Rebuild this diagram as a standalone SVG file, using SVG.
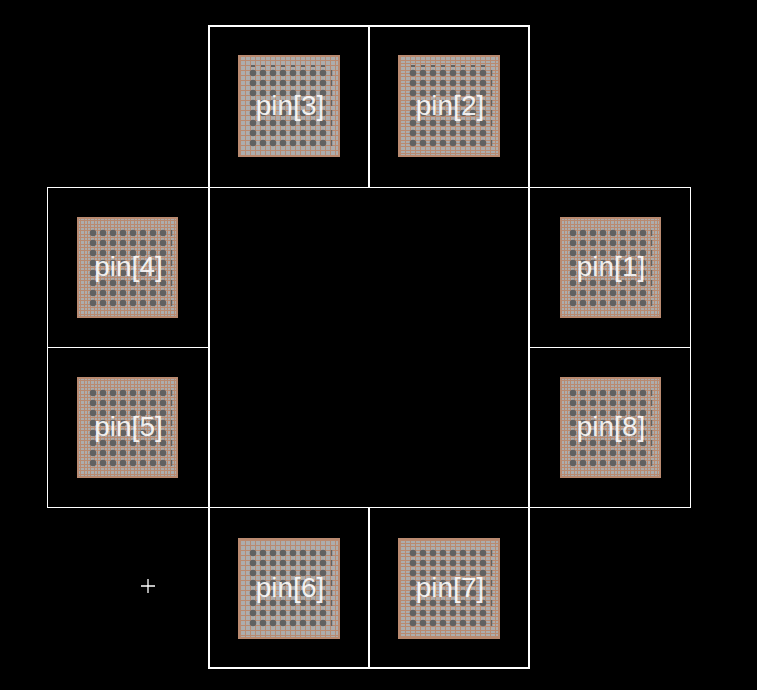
<svg xmlns="http://www.w3.org/2000/svg" width="757" height="690" viewBox="0 0 757 690">
<style>
.thin{fill:none;stroke:#fff;stroke-width:1;shape-rendering:crispEdges}
.thick{fill:none;stroke:#fff;stroke-width:2;shape-rendering:crispEdges}
.base{fill:#adadad}
.ga{fill:url(#gridA);shape-rendering:crispEdges}
.gb{fill:url(#gridB);shape-rendering:crispEdges}
.gc{fill:url(#gridC);shape-rendering:crispEdges}
.edge{fill:none;stroke:#b98a70;stroke-width:2;shape-rendering:crispEdges}
.lab{font-family:"Liberation Sans",Arial,sans-serif;font-size:28px;fill:#fff;fill-opacity:.9;text-anchor:middle}
</style>
<defs>
<pattern id="gridA" width="10" height="10" patternUnits="userSpaceOnUse">
<path d="M0 0h1v10H0zM5 0h1v10H5zM0 0h10v1H0zM0 5h10v1H0z" fill="#b98a70" shape-rendering="crispEdges"/>
</pattern>
<pattern id="gridB" width="10" height="10" patternUnits="userSpaceOnUse">
<path d="M0 0h1v10H0zM5 0h1v10H5zM0 0h10v1H0zM0 3h10v1H0zM0 6h10v1H0z" fill="#b98a70" shape-rendering="crispEdges"/>
</pattern>
<pattern id="gridC" width="10" height="10" patternUnits="userSpaceOnUse">
<path d="M0 0h1v10H0zM4 0h1v10H4zM7 0h1v10H7zM0 0h10v1H0zM0 4h10v1H0zM0 7h10v1H0z" fill="#b98a70" shape-rendering="crispEdges"/>
</pattern>
<pattern id="dotp" width="10" height="10" patternUnits="userSpaceOnUse">
<circle cx="5" cy="5" r="3.3" fill="#616161"/>
</pattern>
<pattern id="dashp" x="82.500" width="10" height="10" patternUnits="userSpaceOnUse">
<rect y="2" width="2" height="6" fill="#616161"/>
</pattern>
<pattern id="topd" width="10" height="2" patternUnits="userSpaceOnUse">
<rect x="3" width="4" height="2" fill="#616161"/>
</pattern>
<g id="dots">
<rect width="80" height="80" fill="url(#dotp)"/>
<rect x="82.500" width="2" height="80" fill="url(#dashp)"/>
</g>
<rect id="topdash" width="80" height="2" fill="url(#topd)"/>
</defs>
<rect width="757" height="690" fill="#000"/>
<g id="pin3">
<path class="thin" d="M208 187.500H370"/><path class="thick" d="M208 26H370M209 26V187M369 26V187"/>
<rect class="base" x="238" y="55" width="102" height="102"/><rect class="ga" x="238" y="55" width="102" height="102"/><rect class="edge" x="239" y="56" width="100" height="100"/>
<use href="#topdash" x="248" y="65"/><use href="#dots" x="248" y="68"/>
<text class="lab" x="290" y="115">pin[3]</text></g>
<g id="pin2">
<path class="thin" d="M368 187.500H530"/><path class="thick" d="M368 26H530M369 26V187M529 26V187"/>
<rect class="base" x="398" y="55" width="102" height="102"/><rect class="gb" x="398" y="55" width="102" height="102"/><rect class="edge" x="399" y="56" width="100" height="100"/>
<use href="#topdash" x="408" y="65"/><use href="#dots" x="408" y="68"/>
<text class="lab" x="450" y="115">pin[2]</text></g>
<g id="pin4">
<path class="thin" d="M47.500 187.500H209M47.500 187V347.500H209"/><path class="thick" d="M209 187V347"/>
<rect class="base" x="77" y="217" width="101" height="101"/><rect class="gc" x="77" y="217" width="101" height="101"/><rect class="edge" x="78" y="218" width="99" height="99"/>
<use href="#dots" x="88" y="228"/>
<text class="lab" x="128.500" y="276">pin[4]</text></g>
<g id="pin5">
<path class="thin" d="M47.500 347.500H209M47.500 347V507.500H209"/><path class="thick" d="M209 347V507"/>
<rect class="base" x="77" y="377" width="101" height="101"/><rect class="gc" x="77" y="377" width="101" height="101"/><rect class="edge" x="78" y="378" width="99" height="99"/>
<use href="#dots" x="88" y="388"/>
<text class="lab" x="128.500" y="436">pin[5]</text></g>
<g id="pin1">
<path class="thin" d="M529 187.500H690.500V347.500H529"/><path class="thick" d="M529 187V347"/>
<rect class="base" x="560" y="217" width="101" height="101"/><rect class="gc" x="560" y="217" width="101" height="101"/><rect class="edge" x="561" y="218" width="99" height="99"/>
<use href="#dots" x="568" y="228"/>
<text class="lab" x="611" y="276">pin[1]</text></g>
<g id="pin8">
<path class="thin" d="M529 347.500H690.500V507.500H529"/><path class="thick" d="M529 347V507"/>
<rect class="base" x="560" y="377" width="101" height="101"/><rect class="gc" x="560" y="377" width="101" height="101"/><rect class="edge" x="561" y="378" width="99" height="99"/>
<use href="#dots" x="568" y="388"/>
<text class="lab" x="611" y="436">pin[8]</text></g>
<g id="pin6">
<path class="thin" d="M208 507.500H370"/><path class="thick" d="M208 668H370M209 507V668M369 507V668"/>
<rect class="base" x="238" y="538" width="102" height="101"/><rect class="ga" x="238" y="538" width="102" height="101"/><rect class="edge" x="239" y="539" width="100" height="99"/>
<use href="#dots" x="248" y="548"/>
<text class="lab" x="290" y="597">pin[6]</text></g>
<g id="pin7">
<path class="thin" d="M368 507.500H530"/><path class="thick" d="M368 668H530M369 507V668M529 507V668"/>
<rect class="base" x="398" y="538" width="102" height="101"/><rect class="gb" x="398" y="538" width="102" height="101"/><rect class="edge" x="399" y="539" width="100" height="99"/>
<use href="#dots" x="408" y="548"/>
<text class="lab" x="450" y="597">pin[7]</text></g>
<path id="origin" d="M141 586H155M148 579V593" fill="none" stroke="#fff" stroke-width="1.300"/>
</svg>
